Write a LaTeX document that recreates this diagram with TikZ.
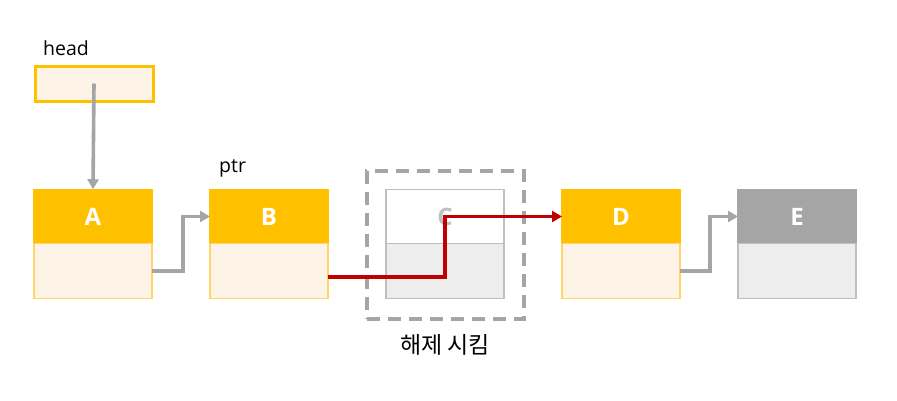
\documentclass[tikz,border=0pt]{standalone}
\usepackage{fontspec}
\setmainfont{Open Sans}[BoldFont={Open Sans Bold}]
\newfontfamily\kr{Noto Sans CJK KR}
\usetikzlibrary{arrows.meta,calc}
\definecolor{gold}{HTML}{FFC000}
\definecolor{cream}{HTML}{FEF3E7}
\definecolor{goldline}{HTML}{FFD56B}
\definecolor{midgray}{HTML}{A5A5A5}
\definecolor{lightgray}{HTML}{EDEDED}
\definecolor{edgegray}{HTML}{BFBFBF}
\definecolor{darkred}{HTML}{C00000}
\tikzset{
  cell/.style={minimum width=118pt, minimum height=54.5pt, inner sep=0pt, outer sep=0pt, line width=1.4pt},
  goldtop/.style={cell, fill=gold, draw=gold, text=white, font=\bfseries\fontsize{24}{28}\selectfont},
  goldbot/.style={cell, fill=cream, draw=goldline},
  graytop/.style={cell, fill=midgray, draw=midgray, text=white, font=\bfseries\fontsize{24}{28}\selectfont},
  graybot/.style={cell, fill=lightgray, draw=edgegray},
  ghosttop/.style={cell, fill=white, draw=edgegray, text=edgegray, font=\bfseries\fontsize{24}{28}\selectfont},
  link/.style={draw=midgray, line width=3.6pt, -{Triangle[length=10pt,width=11pt]}},
  redlink/.style={draw=darkred, line width=3.6pt, -{Triangle[length=10pt,width=11pt]}},
  label/.style={font=\fontsize{19.5}{22}\selectfont, inner sep=0pt},
}
\begin{document}
\begin{tikzpicture}[x=1pt,y=-1pt]
\useasboundingbox (0,0) rectangle (897,400);
% head
\node[label, anchor=west] (headlbl) at (43,48) {head};
\node[cell, minimum height=35pt, fill=cream, draw=gold, line width=3pt] (head) at (94,83.5) {};
% boxes
\node[goldtop] (Atop) at (93,216.5) {A};
\node[goldbot, anchor=north] (Abot) at (Atop.south) {};
\node[goldtop] (Btop) at (269,216.5) {B};
\node[goldbot, anchor=north] (Bbot) at (Btop.south) {};
\node[ghosttop] (Ctop) at (445,216.5) {C};
\node[graybot, anchor=north] (Cbot) at (Ctop.south) {};
\node[goldtop] (Dtop) at (621,216.5) {D};
\node[goldbot, anchor=north] (Dbot) at (Dtop.south) {};
\node[graytop] (Etop) at (797,216.5) {E};
\node[graybot, anchor=north] (Ebot) at (Etop.south) {};
\node[label, anchor=west] (ptr) at (219,168) {ptr};
% dashed frame
\node[draw=midgray, line width=4pt, dash pattern=on 13pt off 8pt, minimum width=157pt, minimum height=148pt, inner sep=0pt] (frame) at (445.5,245) {};
\node[label, font=\kr\fontsize{23}{26}\selectfont] (free) at (445,345) {해제 시킴};
% connectors
\draw[link] (head.center) -- (Atop.north);
\draw[link] (Abot.east) -- ++(31,0) |- (Btop.west);
\draw[link] (Dbot.east) -- ++(30,0) |- (Dtop.west -| Etop.west);
\draw[redlink] ([yshift=-6pt]Bbot.east) -| (Ctop.center) -- (Dtop.west);
\end{tikzpicture}
\end{document}
